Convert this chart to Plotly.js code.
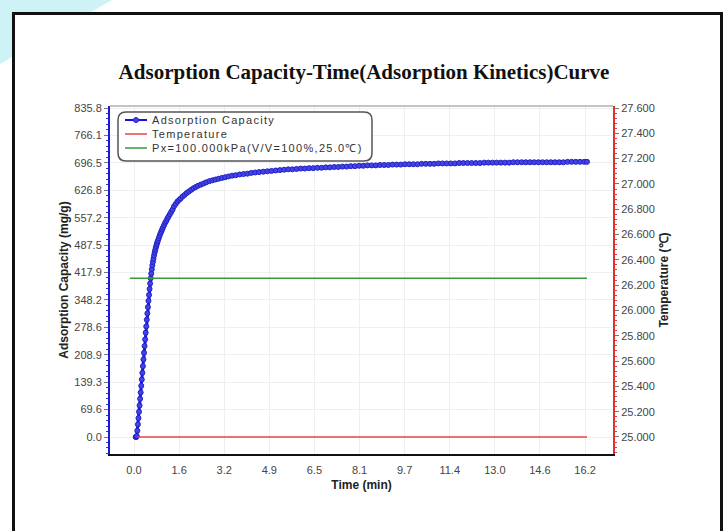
<!DOCTYPE html>
<html>
<head>
<meta charset="utf-8">
<script src="https://cdn.plot.ly/plotly-3.0.1.min.js"></script>
<style>
  html, body { margin:0; padding:0; background:#ffffff; width:724px; height:531px; overflow:hidden; }
  #corner { position:absolute; left:0; top:0; width:112px; height:64px; background:#cdf3f6;
            clip-path: polygon(0 0, 100% 0, 0 100%); }
  #frame { position:absolute; left:12px; top:12px; width:705px; height:600px; border:3px solid #111; background:#ffffff; }
  #chart { position:absolute; left:0; top:0; width:724px; height:531px; }
  .annotation-text { letter-spacing: 1.3px; }
</style>
</head>
<body>
<div id="corner"></div>
<div id="frame"></div>
<div id="chart"></div>
<script>
// ---- data ----
const timeMin = [0.06,0.08,0.10,0.12,0.14,0.16,0.18,0.20,0.22,0.24,0.26,0.28,0.30,0.32,0.34,0.36,0.38,0.40,0.42,0.44,0.46,0.48,0.50,0.52,0.54,0.56,0.58,0.60,0.62,0.64,0.66,0.68,0.70,0.72,0.74,0.76,0.78,0.80,0.82,0.84,0.86,0.89,0.92,0.95,0.98,1.01,1.04,1.08,1.12,1.16,1.20,1.24,1.29,1.34,1.39,1.44,1.50,1.56,1.62,1.68,1.75,1.82,1.90,1.98,2.06,2.14,2.22,2.30,2.40,2.50,2.60,2.71,2.82,2.93,3.04,3.16,3.28,3.40,3.53,3.66,3.80,3.94,4.08,4.22,4.36,4.50,4.65,4.80,4.95,5.10,5.25,5.40,5.55,5.70,5.85,6.00,6.15,6.30,6.45,6.60,6.75,6.90,7.05,7.20,7.35,7.50,7.65,7.80,7.95,8.10,8.25,8.40,8.55,8.70,8.85,9.00,9.15,9.30,9.45,9.60,9.75,9.90,10.05,10.20,10.35,10.50,10.65,10.80,10.95,11.10,11.25,11.40,11.55,11.70,11.85,12.00,12.15,12.30,12.45,12.60,12.75,12.90,13.05,13.20,13.35,13.50,13.65,13.80,13.95,14.10,14.25,14.40,14.55,14.70,14.85,15.00,15.15,15.30,15.45,15.60,15.75,15.90,16.05,16.20,16.30];
const adsorptionCapacity = [0,0,2,16,32,48,64,80,97,113,130,146,163,180,197,214,231,248,265,281,298,314,330,346,361,376,390,403,415,426,436,445,453,461,468,474,480,485,490,495,499,505,511,517,522,527,532,538,544,549,555,560,566,572,578,586,592,598,602,606,611,615,620,624,628,632,635,638,641,644,647,650,652,654,656,658,660,662,664,665,667,668,669,671,672,673,674,675,676,677,678,679,680,680,681,682,682,683,683,684,684,685,685,686,686,687,687,688,688,689,689,690,690,690,691,691,691,692,692,692,693,693,693,693,694,694,694,694,695,695,695,695,695,696,696,696,696,696,696,697,697,697,697,697,697,697,698,698,698,698,698,698,698,698,698,698,698,698,698,699,699,699,699,699,699];
const tempTime = [0.14, 16.30];
const temperature = [25.0, 25.0];
const pxTime = [-0.15, 16.30];
const pxLevel = [403, 403];
const seriesNames = ["Adsorption Capacity", "Temperature", "Px=100.000kPa(V/V=100%,25.0\u2103)"];
const seriesColors = ["#1212e4", "#e84545", "#3a9a3a"];

const xTickVals = [0, 1.623, 3.246, 4.869, 6.492, 8.115, 9.738, 11.361, 12.984, 14.607, 16.23];
const xTickText = ["0.0","1.6","3.2","4.9","6.5","8.1","9.7","11.4","13.0","14.6","16.2"];
const yTickVals = [0, 69.65, 139.3, 208.95, 278.6, 348.25, 417.9, 487.55, 557.2, 626.85, 696.5, 766.15, 835.8];
const yTickText = ["0.0","69.6","139.3","208.9","278.6","348.2","417.9","487.5","557.2","626.8","696.5","766.1","835.8"];
const y2TickVals = [25.0,25.2,25.4,25.6,25.8,26.0,26.2,26.4,26.6,26.8,27.0,27.2,27.4,27.6];

const labelFont = {family:"Liberation Sans, Arial, sans-serif", size:11, color:"#444"};

const traces = [
  {x: timeMin, y: adsorptionCapacity, name: seriesNames[0], type: "scatter", mode: "lines+markers",
   line: {color: seriesColors[0], width: 3},
   marker: {symbol: "circle", size: 5, color: "#4444e6", line: {color: "#2020c8", width: 1}}},
  {x: tempTime, y: temperature, name: seriesNames[1], type: "scatter", mode: "lines", yaxis: "y2",
   line: {color: seriesColors[1], width: 1.5}},
  {x: pxTime, y: pxLevel, name: seriesNames[2], type: "scatter", mode: "lines",
   line: {color: seriesColors[2], width: 1.5}}
];

const L = 110, R = 613, T = 106, B = 454;
const px = v => (v - L) / (R - L);
const py = v => (B - v) / (B - T);
const lx0 = px(118), lx1 = px(372), ly0 = py(161), ly1 = py(112);
const rx = 8 / (R - L), ry = 8 / (B - T);
const legendPath = `M ${lx0+rx} ${ly1} L ${lx1-rx} ${ly1} Q ${lx1} ${ly1} ${lx1} ${ly1-ry} L ${lx1} ${ly0+ry} Q ${lx1} ${ly0} ${lx1-rx} ${ly0} L ${lx0+rx} ${ly0} Q ${lx0} ${ly0} ${lx0} ${ly0+ry} L ${lx0} ${ly1-ry} Q ${lx0} ${ly1} ${lx0+rx} ${ly1} Z`;

// hand-built legend (rows at 120, 134, 148 px)
const rowY = [120, 134, 148];
const legendShapes = [
  {type: "path", xref: "paper", yref: "paper", path: legendPath, line: {color: "#555", width: 1.5}, fillcolor: "#ffffff", layer: "above"}
];
const legendAnn = [];
seriesNames.forEach((name, i) => {
  legendShapes.push({type: "line", xref: "paper", yref: "paper", x0: px(125), x1: px(147), y0: py(rowY[i]), y1: py(rowY[i]),
                     line: {color: seriesColors[i], width: i === 0 ? 2 : 1.5}, layer: "above"});
  legendAnn.push({text: name, xref: "paper", yref: "paper", x: px(150), y: py(rowY[i]), xanchor: "left", yanchor: "middle",
                  showarrow: false, font: {family: "Liberation Sans, Arial, sans-serif", size: 11, color: "#333"}});
});
legendShapes.push({type: "circle", xref: "paper", yref: "paper", x0: px(133.5), x1: px(138.5), y0: py(122.5), y1: py(117.5),
                   fillcolor: "#4444e6", line: {color: "#2020c8", width: 1}, layer: "above"});

const layout = {
  width: 724, height: 531,
  margin: {l: L, r: 724 - R, t: T, b: 531 - B, pad: 0},
  paper_bgcolor: "rgba(0,0,0,0)",
  plot_bgcolor: "#ffffff",
  font: {family: "Liberation Sans, Arial, sans-serif", size: 10, color: "#333"},
  title: {text: "Adsorption Capacity-Time(Adsorption Kinetics)Curve",
          font: {family: "Liberation Serif, Times New Roman, serif", size: 21, color: "#111", weight: "bold"},
          x: 0.505, xanchor: "center", y: 1 - 72/531, yanchor: "middle", xref: "paper"},
  showlegend: false,
  xaxis: {range: [-0.864, 17.236], tickmode: "array", tickvals: xTickVals, ticktext: xTickText,
          showline: true, linecolor: "#111", linewidth: 2, mirror: false,
          ticks: "outside", ticklen: 5, tickcolor: "rgba(0,0,0,0)",
          showgrid: true, gridcolor: "#efefef", gridwidth: 1, zeroline: false,
          tickfont: labelFont,
          title: {text: "Time (min)", font: {family: "Liberation Sans, Arial, sans-serif", size: 12, color: "#222", weight: "bold"}, standoff: 5}},
  yaxis: {range: [-43.2, 840.9], tickmode: "array", tickvals: yTickVals, ticktext: yTickText,
          showline: true, linecolor: "#1a1ad8", linewidth: 2,
          ticks: "outside", ticklen: 4, tickcolor: "#777", tickwidth: 1,
          minor: {tickmode: "linear", tick0: 0, dtick: 13.93, ticks: "outside", ticklen: 2, tickcolor: "#3a3ad8", showgrid: false},
          showgrid: true, gridcolor: "#efefef", gridwidth: 1, zeroline: false,
          tickfont: labelFont,
          title: {text: "Adsorption Capacity (mg/g)", font: {family: "Liberation Sans, Arial, sans-serif", size: 12, color: "#222", weight: "bold"}, standoff: 3}},
  yaxis2: {range: [24.8656, 27.6160], overlaying: "y", side: "right",
          tickmode: "array", tickvals: y2TickVals, tickformat: ".3f",
          showline: true, linecolor: "#e03030", linewidth: 2,
          ticks: "outside", ticklen: 4, tickcolor: "#777", tickwidth: 1,
          minor: {tickmode: "linear", tick0: 25, dtick: 0.04, ticks: "outside", ticklen: 2, tickcolor: "#e04040", showgrid: false},
          showgrid: false, zeroline: false,
          tickfont: labelFont,
          title: {text: "Temperature (\u2103)", font: {family: "Liberation Sans, Arial, sans-serif", size: 12, color: "#222", weight: "bold"}, standoff: 6}},
  shapes: [
    {type: "line", xref: "paper", yref: "paper", x0: 0, x1: 1, y0: 1, y1: 1, line: {color: "#8a8a8a", width: 1.2}}
  ].concat(legendShapes),
  annotations: legendAnn
};

Plotly.newPlot("chart", traces, layout, {displayModeBar: false, staticPlot: true});
</script>
</body>
</html>
